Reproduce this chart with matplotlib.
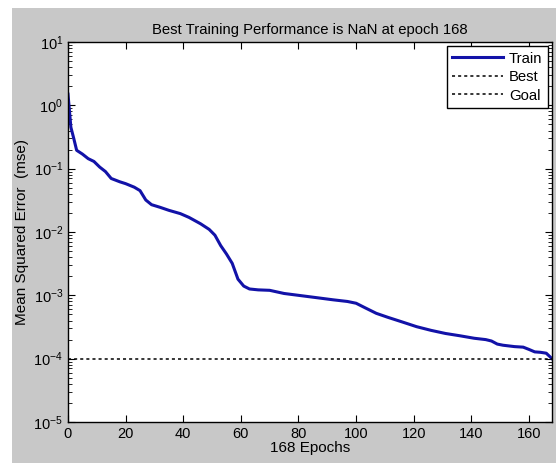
import matplotlib
matplotlib.use('Agg')
import matplotlib.pyplot as plt
import numpy as np
from matplotlib.ticker import LogLocator, NullFormatter

# Data
epochs = [0, 1, 2, 3, 5, 7, 9, 11, 13, 15, 18, 20, 23, 25, 27, 29, 32, 35, 39, 42,
          46, 49, 51, 53, 55, 57, 59, 61, 63, 66, 70, 75, 80, 87, 92, 97, 100,
          103, 107, 111, 116, 121, 126, 131, 136, 141, 145, 147, 149, 151, 155,
          158, 160, 162, 164, 166, 168]
mse = [1.5, 0.45, 0.3, 0.195, 0.17, 0.144, 0.13, 0.106, 0.09, 0.07, 0.062, 0.058,
       0.051, 0.045, 0.032, 0.027, 0.0245, 0.022, 0.0195, 0.017, 0.0135, 0.011,
       0.0089, 0.0061, 0.0045, 0.0032, 0.0018, 0.0014, 0.00126, 0.00122, 0.0012,
       0.00107, 0.001, 0.00091, 0.00085, 0.0008, 0.00075, 0.00064, 0.00052,
       0.00045, 0.00038, 0.00032, 0.00028, 0.00025, 0.00023, 0.00021, 0.0002,
       0.00019, 0.00017, 0.000163, 0.000155, 0.000152, 0.00014, 0.000128,
       0.000126, 0.000122, 0.0001]
goal = 1e-4
best_epoch = 168
xticks = [0, 20, 40, 60, 80, 100, 120, 140, 160]

plt.rcParams['font.family'] = ['Liberation Sans', 'DejaVu Sans']
plt.rcParams['mathtext.fontset'] = 'custom'
plt.rcParams['mathtext.rm'] = 'Liberation Sans'

fig = plt.figure(figsize=(5.56, 4.63), dpi=100, facecolor='white')
# grey MATLAB figure panel (image is cropped on top/left)
fig.patches.append(plt.Rectangle((12 / 556, 0), 1, 1 - 8 / 463, transform=fig.transFigure,
                                 facecolor='#c8c8c8', edgecolor='none', zorder=-10))
ax = fig.add_axes([68 / 556, 41 / 463, 484 / 556, 380 / 463])
ax.set_facecolor('white')

ax.semilogy(epochs, mse, color='#1212a8', lw=2.2, label='Train')
ax.semilogy([best_epoch, best_epoch], [np.nan, np.nan], color='black', lw=1.1,
            linestyle=(0, (2, 2)), label='Best')
ax.semilogy([0, 168], [goal, goal], color='black', lw=1.1,
            linestyle=(0, (2, 2)), label='Goal')

ax.set_xlim(0, 168)
ax.set_ylim(1e-5, 1e1)
ax.set_xticks(xticks)
ax.yaxis.set_major_locator(LogLocator(base=10, numticks=10))
ax.yaxis.set_minor_locator(LogLocator(base=10, subs=np.arange(2, 10), numticks=10))
ax.yaxis.set_minor_formatter(NullFormatter())
ax.tick_params(which='both', direction='in', top=True, right=True, labelsize=10.5)
ax.tick_params(which='major', length=5)
ax.tick_params(which='minor', length=3)
for s in ax.spines.values():
    s.set_linewidth(1.0)

ax.set_title('Best Training Performance is NaN at epoch 168', fontsize=10.7, pad=6)
ax.set_xlabel('168 Epochs', fontsize=11, labelpad=0)
ax.set_ylabel('Mean Squared Error  (mse)', fontsize=11, labelpad=3)

leg = ax.legend(loc='upper right', fontsize=10.7, fancybox=False, framealpha=1,
                edgecolor='black', handlelength=3.4, borderaxespad=0.3,
                labelspacing=0.3, handletextpad=0.4, borderpad=0.35)
leg.get_frame().set_linewidth(1.0)

fig.savefig('out.png', dpi=100, facecolor=fig.get_facecolor())
